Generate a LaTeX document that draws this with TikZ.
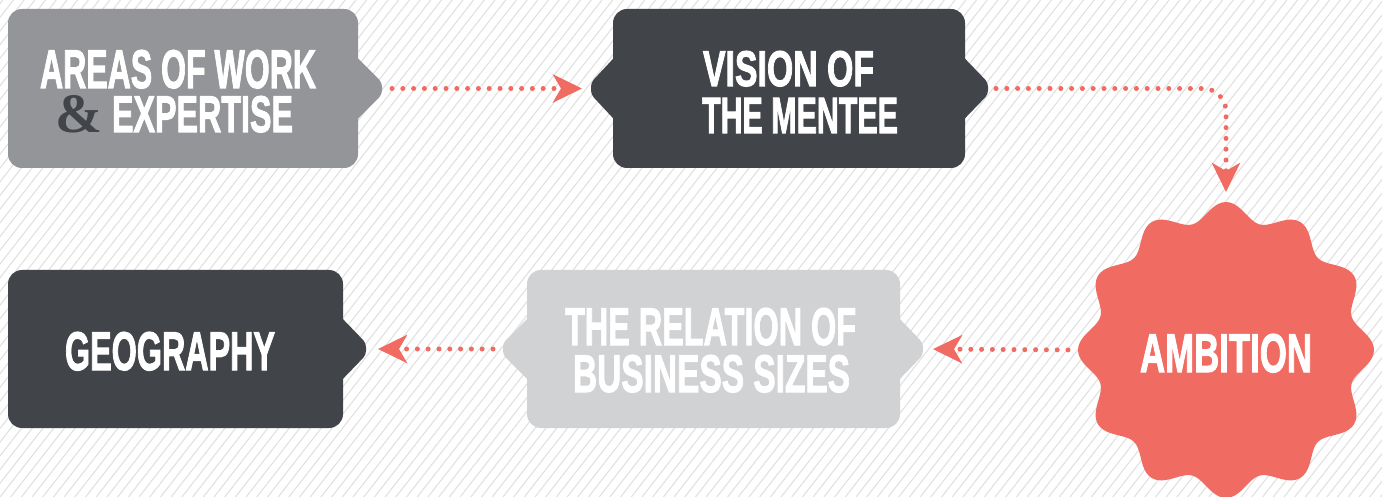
\documentclass[tikz,border=0pt]{standalone}
\usepackage{fontspec}
\usepackage{graphicx}
\setmainfont{Liberation Sans}
\newfontfamily\capfont[BoldFeatures={FakeBold=2.2}]{Liberation Sans}
\newfontfamily\ampfont{Liberation Serif}
\usetikzlibrary{arrows.meta}

\definecolor{hatch}{HTML}{E1E1E1}
\definecolor{midgray}{HTML}{939598}
\definecolor{darkgray}{HTML}{414549}
\definecolor{palegray}{HTML}{D1D2D4}
\definecolor{coral}{HTML}{F06B62}

% one line of condensed capitals, stretched to a given width and height
\newcommand\capline[3]{\resizebox{#1pt}{#2pt}{\capfont\bfseries #3}}

\begin{document}
\begin{tikzpicture}[x=1pt,y=-1pt,
  caption/.style={inner sep=0pt, outer sep=0pt, anchor=base west, text=white},
  body/.style={rounded corners=14pt},
  tip/.style={rounded corners=4pt},
  flow/.style={draw=coral, line width=5pt, line cap=round,
    dash pattern=on 0pt off 10.8pt,
    -{Stealth[length=29pt,width=28pt,inset=8pt,fill=coral]}}]

\useasboundingbox (0,0) rectangle (1382,497);
\fill[white] (0,0) rectangle (1382,497);

% diagonal hatching of the background
\begin{scope}
  \clip (0,0) rectangle (1382,497);
  \foreach \i in {-40,...,130}
    \draw[hatch, line width=1.1pt] ({\i*10.7},497) -- ++(388,-497);
\end{scope}

% ---- Areas of work & expertise
\fill[midgray, body] (8,9) rectangle (358,168);
\fill[midgray, tip] (353,53.5) -- (382,82.5) -- (382,94.5) -- (353,123.5) -- cycle;
\coordinate (areasR) at (382,88.5);
\node[caption] (areas1) at (40,88) {\capline{276}{38}{AREAS OF WORK}};
\node[caption, text=darkgray] (amp) at (56,133) {\resizebox{47pt}{37pt}{\ampfont\bfseries\&}};
\node[caption] (areas2) at (112,132) {\capline{181}{36}{EXPERTISE}};

% ---- Vision of the mentee
\fill[darkgray, body] (613,9) rectangle (965,168);
\fill[darkgray, tip] (618,53.5) -- (591,82.5) -- (591,94.5) -- (618,123.5) -- cycle;
\fill[darkgray, tip] (960,53.5) -- (988,82.5) -- (988,94.5) -- (960,123.5) -- cycle;
\coordinate (visionL) at (591,88.5);
\coordinate (visionR) at (988,88.5);
\node[caption] (vision1) at (703,86) {\capline{171}{35}{VISION OF}};
\node[caption] (vision2) at (702,133) {\capline{196}{35}{THE MENTEE}};

% ---- Geography
\fill[darkgray, body] (8,270) rectangle (343,428);
\fill[darkgray, tip] (338,314) -- (366,343) -- (366,355) -- (338,384) -- cycle;
\coordinate (geoR) at (366,349);
\node[caption] (geo) at (65,370) {\capline{210}{38}{GEOGRAPHY}};

% ---- The relation of business sizes
\fill[palegray, body] (527,270) rectangle (900,428);
\fill[palegray, tip] (532,314) -- (503,343) -- (503,355) -- (532,384) -- cycle;
\fill[palegray, tip] (895,314) -- (923,343) -- (923,355) -- (895,384) -- cycle;
\coordinate (relL) at (503,349);
\coordinate (relR) at (923,349);
\node[caption] (rel1) at (565,345) {\capline{291}{37}{THE RELATION OF}};
\node[caption] (rel2) at (573,392) {\capline{277}{37}{BUSINESS SIZES}};

% ---- Ambition: twelve-lobed seal
\fill[coral] plot[domain=0:360, samples=241, smooth]
  ({1226+(139+9*cos(12*\x))*cos(\x)}, {350+(139+9*cos(12*\x))*sin(\x)}) -- cycle;
\coordinate (ambN) at (1226,202);
\coordinate (ambW) at (1078,350);
\node[caption] (amb) at (1140,372) {\capline{172}{38}{AMBITION}};

% ---- connectors
\draw[flow, shorten <=10pt, shorten >=9pt] (areasR) -- (visionL);
\draw[flow, rounded corners=23pt, shorten <=8pt, shorten >=10pt] (visionR) -| (ambN);
\draw[flow, shorten <=10pt, shorten >=10pt] (ambW) -- (relR);
\draw[flow, shorten <=10pt, shorten >=12pt] (relL) -- (geoR);
\end{tikzpicture}
\end{document}
